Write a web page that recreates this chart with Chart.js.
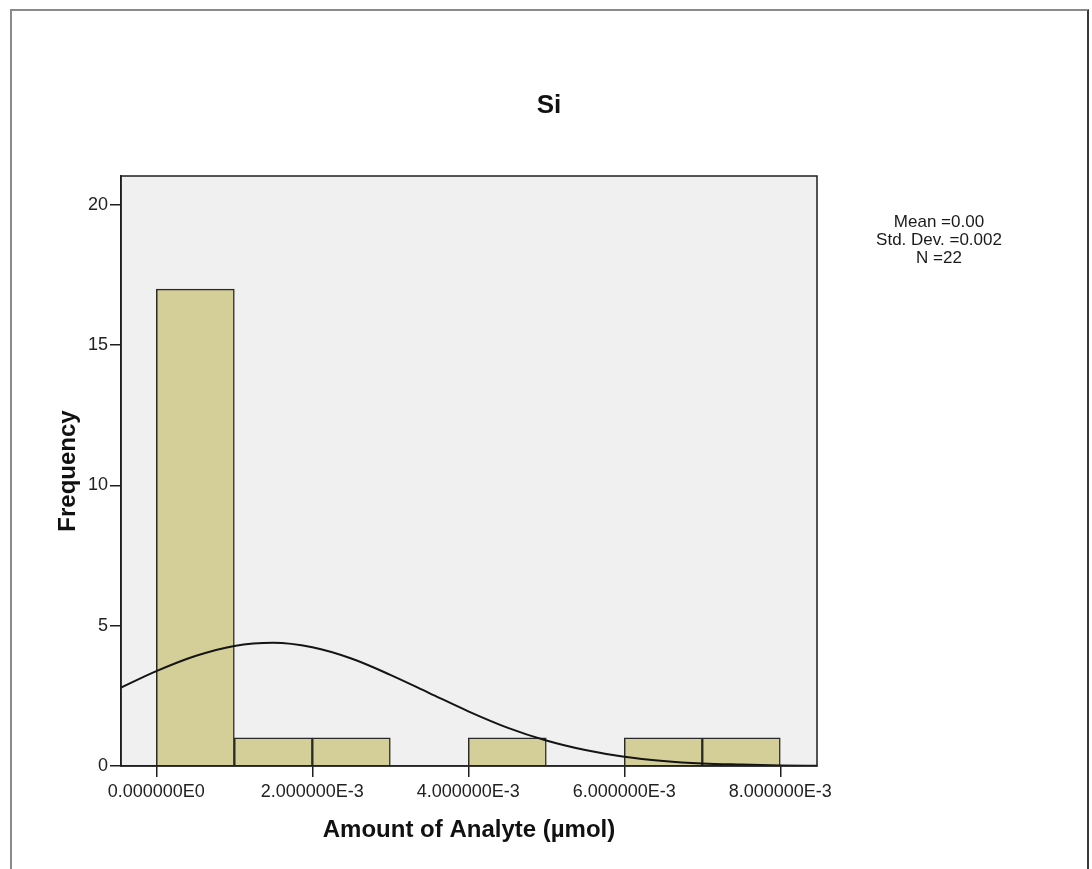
<!DOCTYPE html>
<html>
<head>
<meta charset="utf-8">
<title>Si</title>
<script src="https://cdn.jsdelivr.net/npm/chart.js@4/dist/chart.umd.min.js"></script>
<style>
  html, body { margin: 0; padding: 0; background: #ffffff; overflow: hidden; }
  #wrap { position: relative; width: 1092px; height: 869px; }
  #frame {
    position: absolute; left: 10px; top: 9px; width: 1075px; height: 900px;
    border-top: 2px solid #8a8a8a; border-left: 2px solid #8a8a8a; border-right: 2px solid #3a3a3a;
    pointer-events: none;
  }
  canvas { position: absolute; left: 0; top: 0; }
</style>
</head>
<body>
<div id="wrap">
  <canvas id="chart" width="1092" height="869"></canvas>
  <div id="frame"></div>
</div>
<script>
// Histogram bins (lower edges, µmol) and their frequencies
const binStarts = [0.000, 0.001, 0.002, 0.003, 0.004, 0.005, 0.006, 0.007];
const binWidth = 0.001;
const counts = [17, 1, 1, 0, 1, 0, 1, 1];

// Fitted normal curve, sampled along the x axis
const curveX = [-0.0005, 0.0000, 0.0005, 0.0010, 0.0015, 0.0020, 0.0025, 0.0030, 0.0035,
                0.0040, 0.0045, 0.0050, 0.0055, 0.0060, 0.0065, 0.0070, 0.0075, 0.0080, 0.0085];
const curveY = [2.73, 3.38, 3.92, 4.28, 4.39, 4.23, 3.83, 3.25, 2.60,
                1.95, 1.37, 0.91, 0.57, 0.33, 0.18, 0.09, 0.05, 0.02, 0.01];

// Axis ticks
const xTickValues = [0, 0.002, 0.004, 0.006, 0.008];
const xTickLabels = ['0.000000E0', '2.000000E-3', '4.000000E-3', '6.000000E-3', '8.000000E-3'];
const yTickValues = [0, 5, 10, 15, 20];

// Chart title and summary statistics shown beside the plot
const chartTitle = 'Si';
const statsLines = ['Mean =0.00', 'Std. Dev. =0.002', 'N =22'];

const SANS = '"Liberation Sans", Arial, sans-serif';
const tickFont = { family: SANS, size: 18 };
const axisTitleFont = { family: SANS, size: 24, weight: 'bold' };

// Grey plot background and black frame around the data area
const plotFrame = {
  id: 'plotFrame',
  beforeDraw(chart) {
    const a = chart.chartArea, ctx = chart.ctx;
    ctx.save();
    ctx.fillStyle = '#f0f0f0';
    ctx.fillRect(a.left, a.top, a.right - a.left, a.bottom - a.top);
    ctx.restore();
  },
  afterDraw(chart) {
    const a = chart.chartArea, ctx = chart.ctx;
    ctx.save();
    ctx.strokeStyle = '#1e1e1e';
    ctx.lineWidth = 1.5;
    ctx.strokeRect(a.left, a.top, a.right - a.left, a.bottom - a.top);
    ctx.restore();
  }
};

// Title centred on the whole figure, statistics block on the right
const headerText = {
  id: 'headerText',
  afterDraw(chart) {
    const ctx = chart.ctx;
    ctx.save();
    ctx.fillStyle = '#111';
    ctx.textAlign = 'center';
    ctx.textBaseline = 'middle';
    ctx.font = 'bold 26px ' + SANS;
    ctx.fillText(chartTitle, chart.width / 2 + 3, 106);
    ctx.fillStyle = '#1a1a1a';
    ctx.font = '17px ' + SANS;
    statsLines.forEach((t, i) => ctx.fillText(t, 939, 222 + i * 18));
    ctx.restore();
  }
};

new Chart(document.getElementById('chart'), {
  type: 'bar',
  data: {
    datasets: [
      {
        type: 'bar',
        order: 1,
        data: binStarts.map((s, i) => ({ x: s + binWidth / 2, y: counts[i] })),
        backgroundColor: '#d4cf98',
        borderColor: '#2a2a2a',
        borderWidth: ctx => (ctx.raw && ctx.raw.y > 0 ? 1.5 : 0),
        barPercentage: 1,
        categoryPercentage: 1
      },
      {
        type: 'line',
        order: 0,
        data: curveX.map((x, i) => ({ x: x, y: curveY[i] })),
        borderColor: '#141414',
        borderWidth: 2,
        pointRadius: 0,
        fill: false,
        cubicInterpolationMode: 'monotone',
        clip: 0
      }
    ]
  },
  options: {
    responsive: false,
    animation: false,
    devicePixelRatio: 1,
    layout: { padding: { left: 0, right: 275, top: 176, bottom: 0 } },
    plugins: {
      legend: { display: false },
      tooltip: { enabled: false },
      title: { display: false }
    },
    scales: {
      x: {
        type: 'linear',
        min: -0.000453,
        max: 0.008471,
        offset: false,
        grid: { offset: false, drawOnChartArea: false, drawTicks: true, tickLength: 11, color: '#1e1e1e', lineWidth: 1.5 },
        border: { display: true, color: '#1e1e1e', width: 1.5 },
        afterBuildTicks: scale => { scale.ticks = xTickValues.map(v => ({ value: v })); },
        afterFit: scale => { scale.height = 103; scale.paddingLeft = 0; scale.paddingRight = 0; },
        ticks: {
          autoSkip: false,
          maxRotation: 0,
          minRotation: 0,
          padding: 4,
          color: '#222',
          font: tickFont,
          callback: (v, i) => xTickLabels[i]
        },
        title: {
          display: true,
          text: 'Amount of Analyte (µmol)',
          color: '#111',
          font: axisTitleFont,
          padding: { top: 0, bottom: 24.6 }
        }
      },
      y: {
        type: 'linear',
        min: 0,
        max: 21.03,
        grid: { drawOnChartArea: false, drawTicks: true, tickLength: 11, color: '#1e1e1e', lineWidth: 1.5 },
        border: { display: true, color: '#1e1e1e', width: 1.5 },
        afterBuildTicks: scale => { scale.ticks = yTickValues.map(v => ({ value: v })); },
        afterFit: scale => { scale.width = 121; scale.paddingTop = 0; scale.paddingBottom = 0; },
        ticks: {
          autoSkip: false,
          padding: 2,
          color: '#222',
          font: tickFont,
          callback: v => String(v)
        },
        title: {
          display: true,
          text: 'Frequency',
          color: '#111',
          font: axisTitleFont,
          padding: { top: 53.6, bottom: 0 }
        }
      }
    }
  },
  plugins: [plotFrame, headerText]
});
</script>
</body>
</html>
